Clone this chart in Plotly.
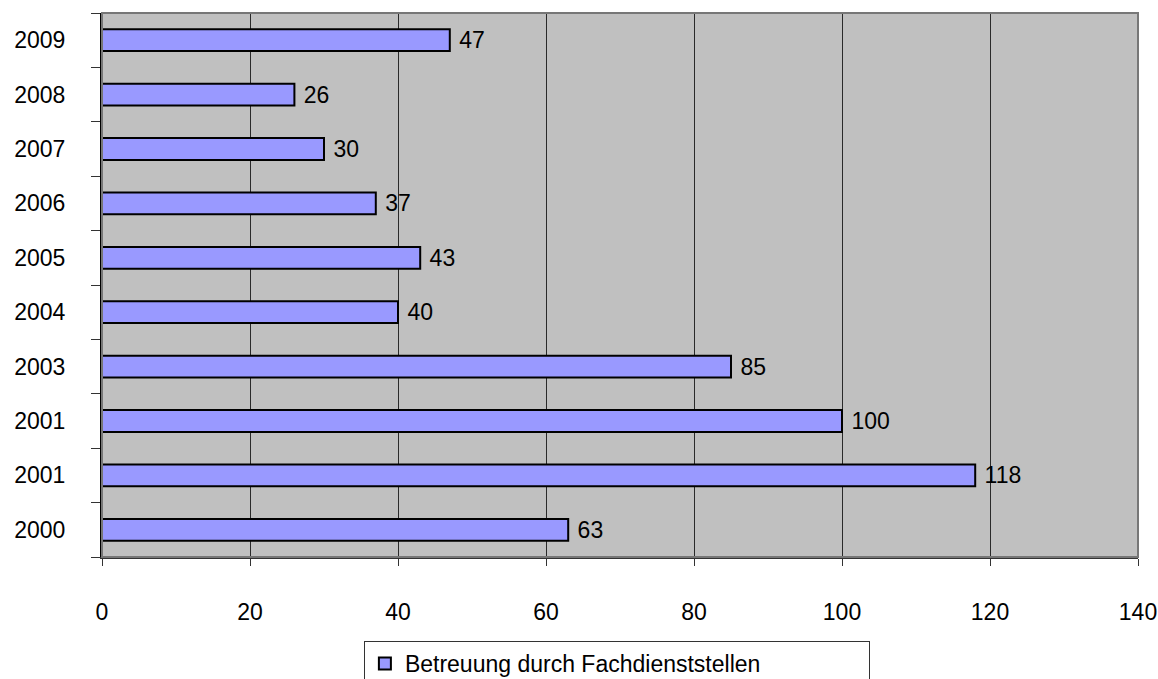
import plotly.graph_objects as go

years = ["2000", "2001", "2001", "2003", "2004", "2005", "2006", "2007", "2008", "2009"]
values = [63, 118, 100, 85, 40, 43, 37, 30, 26, 47]
series_name = "Betreuung durch Fachdienststellen"
x_ticks = [0, 20, 40, 60, 80, 100, 120, 140]

positions = list(range(len(years)))
boundaries = [p - 0.5 for p in positions] + [positions[-1] + 0.5]

FONT = "Liberation Sans, Arial, sans-serif"
FS = 23

fig = go.Figure()
fig.add_trace(go.Bar(
    y=positions, x=values, orientation="h", name=series_name,
    width=0.4,
    marker=dict(color="#9999FF", line=dict(color="black", width=2)),
    text=[" " + str(v) for v in values], textposition="outside",
    textfont=dict(family=FONT, size=FS, color="black"),
    constraintext="none", cliponaxis=False, showlegend=True,
))

fig.update_layout(
    width=1158, height=679,
    margin=dict(l=102, r=20, t=13, b=122),
    paper_bgcolor="white", plot_bgcolor="#C0C0C0",
    font=dict(family=FONT, size=FS, color="black"),
    xaxis=dict(
        range=[0, 140], tickvals=x_ticks, ticktext=[str(t) for t in x_ticks],
        showgrid=True, gridcolor="#2a2a2a", gridwidth=1,
        showline=True, linecolor="#333333", linewidth=2,
        ticks="outside", ticklen=7, tickcolor="#333333",
        ticklabelstandoff=26, zeroline=False, automargin=False,
    ),
    yaxis=dict(
        range=[-0.5, len(years) - 0.5], tickvals=positions, ticktext=years,
        showgrid=False, zeroline=False, automargin=False,
        showline=True, linecolor="black", linewidth=2,
        ticks="", ticklabelstandoff=30,
        minor=dict(tickvals=boundaries, ticks="outside", ticklen=9, tickcolor="#333333", showgrid=False),
    ),
    legend=dict(
        orientation="h", x=0.497, xanchor="center", xref="paper",
        y=1 - 641 / 679, yanchor="top", yref="container",
        bgcolor="white", bordercolor="#333333", borderwidth=1,
        font=dict(family=FONT, size=FS), entrywidth=459, itemwidth=30,
    ),
    shapes=[dict(type="rect", xref="paper", yref="paper", x0=0, x1=1, y0=0, y1=1,
                 line=dict(color="#777777", width=2), layer="above")],
)

fig.write_html("out.html", config={"displayModeBar": False},
               post_script="document.body.style.margin='0px';")
